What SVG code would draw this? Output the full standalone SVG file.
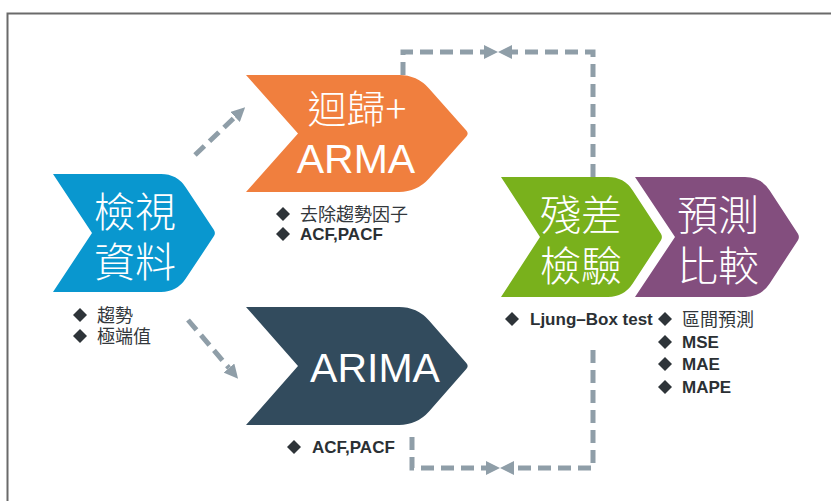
<svg xmlns="http://www.w3.org/2000/svg" width="831" height="501" viewBox="0 0 831 501">
  <style>
    .title-cjk { font-family: "Noto Sans CJK TC", "Noto Sans CJK SC", sans-serif; font-size: 41px; fill: #ffffff; text-anchor: middle; font-weight: 300; }
    .title-lat { font-family: "Liberation Sans", Arial, sans-serif; font-size: 41px; fill: #ffffff; text-anchor: middle; }
    .item-cjk { font-family: "Noto Sans CJK TC", "Noto Sans CJK SC", sans-serif; font-size: 18px; fill: #33383c; }
    .item-lat { font-family: "Liberation Sans", Arial, sans-serif; font-size: 17px; font-weight: bold; fill: #2b3034; }
    .flow { fill: none; stroke: #8f9ea8; stroke-width: 5; stroke-dasharray: 13 7; }
    .dot { fill: #2e3439; }
  </style>
  <defs>
    <marker id="head" viewBox="0 0 14 14" markerWidth="14" markerHeight="14" refX="0" refY="7" orient="auto" markerUnits="userSpaceOnUse">
      <path d="M0,0 L14,7 L0,14 Z" fill="#8f9ea8"/>
    </marker>
    <!-- list bullet -->
    <path id="diamond" d="M0,-7 L7,0 L0,7 L-7,0 Z"/>
  </defs>

  <!-- page frame -->
  <path d="M7.5,501 V13.5 H831" fill="none" stroke="#6a6a6a" stroke-width="2"/>

  <!-- connectors -->
  <g id="connectors">
    <path class="flow" d="M195,155 L235,117" marker-end="url(#head)"/>
    <path class="flow" d="M188,320 L229,368" marker-end="url(#head)"/>
    <path class="flow" d="M403,75 V52 H484" marker-end="url(#head)"/>
    <path class="flow" d="M593,177 V52 H512" marker-end="url(#head)"/>
    <path class="flow" d="M412,437 V468 H486" marker-end="url(#head)"/>
    <path class="flow" d="M593,350 V468 H514" marker-end="url(#head)"/>
  </g>

  <!-- step 1 -->
  <g id="node-data">
    <path d="M53,174 H161 Q177,174 185.8,187.4 L213.8,229.7 Q216,233 213.8,236.3 L185.8,278.6 Q177,292 161,292 H53 L92,233 Z" fill="#0997cf"/>
    <text class="title-cjk" x="135" y="227">檢視</text>
    <text class="title-cjk" x="135" y="277">資料</text>
    <use href="#diamond" class="dot" x="80" y="315"/>
    <text class="item-cjk" x="97" y="322">趨勢</text>
    <use href="#diamond" class="dot" x="80" y="336"/>
    <text class="item-cjk" x="97" y="343">極端值</text>
  </g>

  <!-- step 2a -->
  <g id="node-regression">
    <path d="M246,75 H399 Q417,75 429,88.4 L466.3,130.5 Q469,133.5 466.3,136.5 L429,178.6 Q417,192 399,192 H246 L298,133.5 Z" fill="#f07f3e"/>
    <text class="title-cjk" x="357" y="123" style="font-size:39px">迴歸+</text>
    <text class="title-lat" x="356" y="173">ARMA</text>
    <use href="#diamond" class="dot" x="283" y="214"/>
    <text class="item-cjk" x="300" y="221">去除趨勢因子</text>
    <use href="#diamond" class="dot" x="283" y="234"/>
    <text class="item-lat" x="300" y="240">ACF,PACF</text>
  </g>

  <!-- step 2b -->
  <g id="node-arima">
    <path d="M246,307 H399 Q417,307 429,320.4 L466.3,363 Q469,366 466.3,369 L429,411.6 Q417,425 399,425 H246 L298,366 Z" fill="#324b5d"/>
    <text class="title-lat" x="375" y="382">ARIMA</text>
    <use href="#diamond" class="dot" x="294" y="447"/>
    <text class="item-lat" x="312" y="453">ACF,PACF</text>
  </g>

  <!-- step 3 -->
  <g id="node-residual">
    <path d="M501,177 H608 Q624,177 632.7,190.4 L660.8,233.6 Q663,237 660.8,240.4 L632.7,283.6 Q624,297 608,297 H501 L540,237 Z" fill="#79b11c"/>
    <text class="title-cjk" x="581" y="230">殘差</text>
    <text class="title-cjk" x="581" y="281">檢驗</text>
    <use href="#diamond" class="dot" x="512" y="319"/>
    <text class="item-lat" x="530" y="325">Ljung–Box test</text>
  </g>

  <!-- step 4 -->
  <g id="node-compare">
    <path d="M635,177 H745 Q761,177 769.7,190.4 L797.8,233.6 Q800,237 797.8,240.4 L769.7,283.6 Q761,297 745,297 H635 L675,237 Z" fill="#834e7e"/>
    <text class="title-cjk" x="718" y="230">預測</text>
    <text class="title-cjk" x="718" y="281">比較</text>
    <use href="#diamond" class="dot" x="665" y="319"/>
    <text class="item-cjk" x="682" y="326">區間預測</text>
    <use href="#diamond" class="dot" x="665" y="342"/>
    <text class="item-lat" x="682" y="348">MSE</text>
    <use href="#diamond" class="dot" x="665" y="364"/>
    <text class="item-lat" x="682" y="370">MAE</text>
    <use href="#diamond" class="dot" x="665" y="387"/>
    <text class="item-lat" x="682" y="393">MAPE</text>
  </g>
</svg>
